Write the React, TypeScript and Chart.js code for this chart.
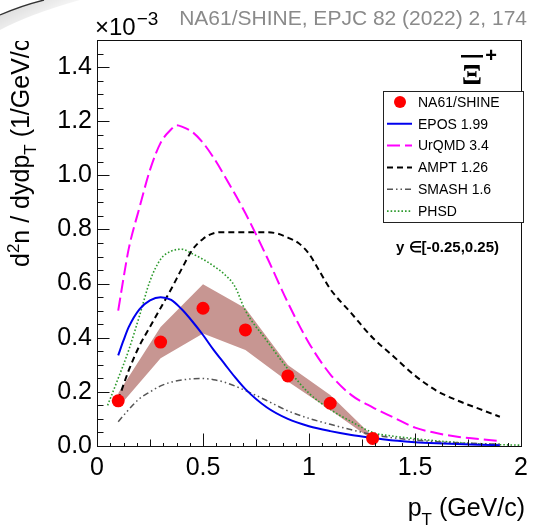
import React, { useEffect, useRef } from "react";
import { Chart, registerables } from "chart.js";
Chart.register(...registerables);

// ---- data (values in units of 1e-3) ----
const pT = [0.1, 0.3, 0.5, 0.7, 0.9, 1.1, 1.3];
const na61 = [0.167, 0.384, 0.509, 0.429, 0.259, 0.158, 0.028];
const bandUpper = [0.195, 0.44, 0.598, 0.509, 0.299, 0.188, 0.036];
const bandLower = [0.142, 0.324, 0.416, 0.355, 0.238, 0.133, 0.022];

const eposX = [0.1, 0.125, 0.15, 0.2, 0.25, 0.3, 0.35, 0.4, 0.45, 0.5, 0.55, 0.6, 0.65, 0.7, 0.8, 0.9, 1.0, 1.1, 1.2, 1.3, 1.4, 1.5, 1.6, 1.7, 1.8, 1.9];
const eposY = [0.335, 0.39, 0.44, 0.505, 0.538, 0.55, 0.54, 0.505, 0.46, 0.41, 0.355, 0.305, 0.255, 0.21, 0.143, 0.1, 0.073, 0.055, 0.041, 0.03, 0.02, 0.014, 0.01, 0.007, 0.005, 0.003];

const urqmdX = [0.1, 0.125, 0.15, 0.2, 0.25, 0.3, 0.35, 0.375, 0.4, 0.45, 0.5, 0.55, 0.6, 0.7, 0.8, 0.9, 1.0, 1.1, 1.2, 1.3, 1.4, 1.5, 1.6, 1.7, 1.8, 1.9];
const urqmdY = [0.5, 0.62, 0.73, 0.88, 1.02, 1.12, 1.17, 1.185, 1.18, 1.16, 1.12, 1.065, 1.0, 0.86, 0.7, 0.53, 0.38, 0.265, 0.188, 0.143, 0.105, 0.068, 0.048, 0.034, 0.026, 0.018];

const amptX = [0.1, 0.15, 0.2, 0.25, 0.3, 0.35, 0.4, 0.45, 0.5, 0.55, 0.6, 0.7, 0.8, 0.85, 0.9, 0.95, 1.0, 1.05, 1.1, 1.2, 1.3, 1.4, 1.5, 1.6, 1.7, 1.8, 1.9];
const amptY = [0.17, 0.28, 0.37, 0.44, 0.51, 0.58, 0.655, 0.725, 0.765, 0.786, 0.79, 0.79, 0.79, 0.785, 0.77, 0.75, 0.71, 0.645, 0.58, 0.49, 0.4, 0.33, 0.26, 0.205, 0.168, 0.138, 0.108];

const smashX = [0.1, 0.15, 0.2, 0.25, 0.3, 0.35, 0.4, 0.45, 0.5, 0.55, 0.6, 0.7, 0.8, 0.9, 1.0, 1.1, 1.2, 1.3, 1.4, 1.5, 1.6, 1.7, 1.8, 1.9];
const smashY = [0.09, 0.135, 0.175, 0.2, 0.222, 0.236, 0.244, 0.248, 0.249, 0.245, 0.236, 0.205, 0.168, 0.13, 0.102, 0.08, 0.06, 0.042, 0.03, 0.022, 0.016, 0.012, 0.009, 0.007];

const phsdX = [0.05, 0.1, 0.15, 0.2, 0.25, 0.3, 0.35, 0.4, 0.45, 0.5, 0.55, 0.6, 0.65, 0.7, 0.8, 0.9, 1.0, 1.1, 1.2, 1.3, 1.4, 1.5, 1.6, 1.7, 1.8, 1.9, 2.0];
const phsdY = [0.15, 0.25, 0.355, 0.48, 0.61, 0.69, 0.72, 0.727, 0.71, 0.69, 0.665, 0.635, 0.59, 0.5, 0.39, 0.285, 0.195, 0.135, 0.09, 0.05, 0.036, 0.027, 0.019, 0.013, 0.008, 0.005, 0.003];

const yTicks = [0, 0.2, 0.4, 0.6, 0.8, 1.0, 1.2, 1.4];
const xTicks = [0, 0.5, 1, 1.5, 2];

const legendLabels = ["NA61/SHINE", "EPOS 1.99", "UrQMD 3.4", "AMPT 1.26", "SMASH 1.6", "PHSD"];
const titleText = "NA61/SHINE, EPJC 82 (2022) 2, 174";
const rangeText = "y \u2208[-0.25,0.25)";

const SANS = '"Liberation Sans", Arial, Helvetica, sans-serif';

const xy = (xs: number[], ys: number[]) => xs.map((x, i) => ({ x, y: ys[i] }));

const styles = [
  { color: "#ff0000", dash: [] as number[], width: 0 },
  { color: "#0000ee", dash: [] as number[], width: 2 },
  { color: "#ff00ff", dash: [13, 5], width: 2 },
  { color: "#000000", dash: [6, 4], width: 2 },
  { color: "#555555", dash: [6, 3, 1.5, 3, 1.5, 3], width: 1.5 },
  { color: "#2e9a2e", dash: [1.6, 2], width: 1.6 },
];

const overlay = {
  id: "overlay",
  afterDraw(chart: any) {
    const { ctx, chartArea: a, scales } = chart;
    const xs = scales.x;
    const ys = scales.y;
    ctx.save();
    // frame
    ctx.strokeStyle = "#111";
    ctx.lineWidth = 1;
    ctx.setLineDash([]);
    const L = Math.round(a.left) + 0.5, T = Math.round(a.top) + 0.5;
    const R = Math.round(a.right) + 0.5, B = Math.round(a.bottom) + 0.5;
    ctx.strokeRect(L, T, R - L, B - T);
    // ticks
    ctx.beginPath();
    for (let i = 0; i <= 30; i++) {
      const py = Math.round(ys.getPixelForValue(i * 0.05)) + 0.5;
      const len = i % 4 === 0 ? 12 : 6;
      ctx.moveTo(L, py);
      ctx.lineTo(L + len, py);
    }
    for (let i = 0; i <= 32; i++) {
      const px = Math.round(xs.getPixelForValue(i * 0.0625)) + 0.5;
      const len = i % 8 === 0 ? 13 : i % 4 === 0 ? 7 : 3.5;
      ctx.moveTo(px, B);
      ctx.lineTo(px, B - len);
    }
    ctx.stroke();

    // title
    ctx.fillStyle = "#8a8a8a";
    ctx.font = `21px ${SANS}`;
    ctx.textAlign = "right";
    ctx.textBaseline = "alphabetic";
    ctx.fillText(titleText, 527, 25);

    // x10^-3
    ctx.fillStyle = "#000";
    ctx.textAlign = "left";
    ctx.font = `24px ${SANS}`;
    ctx.fillText("\u00d710", 95, 35);
    const w10 = ctx.measureText("\u00d710").width;
    ctx.font = `19px ${SANS}`;
    ctx.fillText("\u22123", 95 + w10 + 1, 25);

    // Xi-bar +
    ctx.font = `bold 30px "Liberation Serif", serif`;
    ctx.textAlign = "center";
    ctx.fillText("\u039e", 472, 84);
    ctx.fillRect(461, 55, 22, 2.5);
    ctx.font = `bold 20px ${SANS}`;
    ctx.textBaseline = "middle";
    ctx.fillText("+", 491, 56);

    // legend
    const lx0 = 383, ly0 = 91, lx1 = 523, ly1 = 222;
    ctx.fillStyle = "#fff";
    ctx.fillRect(lx0, ly0, lx1 - lx0, ly1 - ly0);
    ctx.strokeStyle = "#222";
    ctx.lineWidth = 1;
    ctx.strokeRect(lx0 + 0.5, ly0 + 0.5, lx1 - lx0, ly1 - ly0);
    const rowH = (ly1 - ly0) / legendLabels.length;
    legendLabels.forEach((lab, i) => {
      const cy = ly0 + rowH * (i + 0.5);
      const st = styles[i];
      if (i === 0) {
        ctx.fillStyle = st.color;
        ctx.beginPath();
        ctx.arc(400, cy, 6, 0, Math.PI * 2);
        ctx.fill();
      } else {
        ctx.strokeStyle = st.color;
        ctx.lineWidth = st.width;
        ctx.setLineDash(st.dash);
        ctx.beginPath();
        ctx.moveTo(387, cy);
        ctx.lineTo(412, cy);
        ctx.stroke();
        ctx.setLineDash([]);
      }
      ctx.fillStyle = "#000";
      ctx.font = `14px ${SANS}`;
      ctx.textAlign = "left";
      ctx.textBaseline = "middle";
      ctx.fillText(lab, 418, cy + 1);
    });

    // rapidity range
    ctx.font = `bold 15px ${SANS}`;
    ctx.textAlign = "left";
    ctx.textBaseline = "middle";
    ctx.fillText(rangeText, 396, 248);

    // x title
    ctx.textBaseline = "alphabetic";
    ctx.font = `25px ${SANS}`;
    const wA = ctx.measureText(" (GeV/c)").width;
    const wP = ctx.measureText("p").width;
    ctx.font = `17px ${SANS}`;
    const wT = ctx.measureText("T").width;
    let sx = 525 - wA - wT - wP;
    ctx.font = `25px ${SANS}`;
    ctx.fillText("p", sx, 516);
    sx += wP;
    ctx.font = `17px ${SANS}`;
    ctx.fillText("T", sx, 525);
    sx += wT;
    ctx.font = `25px ${SANS}`;
    ctx.fillText(" (GeV/c)", sx, 516);

    // y title (rotated), clipped at top like the reference
    ctx.save();
    ctx.beginPath();
    ctx.rect(0, 41, 80, 487);
    ctx.clip();
    ctx.translate(29, 267);
    ctx.rotate(-Math.PI / 2);
    let cx = 0;
    const seg = (t: string, size: number, dy: number) => {
      ctx.font = `${size}px ${SANS}`;
      ctx.fillText(t, cx, dy);
      cx += ctx.measureText(t).width;
    };
    seg("d", 25, 0);
    seg("2", 17, -10);
    seg("n / dydp", 25, 0);
    seg("T", 17, 7);
    seg(" (1/GeV/c)", 25, 0);
    ctx.restore();

    // page curl at top-left corner
    const g = ctx.createLinearGradient(0, 0, 20, 40);
    g.addColorStop(0, "rgba(0,0,0,0.18)");
    g.addColorStop(1, "rgba(0,0,0,0)");
    ctx.fillStyle = g;
    ctx.beginPath();
    ctx.moveTo(0, 15);
    ctx.quadraticCurveTo(20, 6, 44, 0);
    ctx.lineTo(80, 0);
    ctx.quadraticCurveTo(30, 14, 0, 30);
    ctx.closePath();
    ctx.fill();
    ctx.strokeStyle = "#333";
    ctx.lineWidth = 1.3;
    ctx.beginPath();
    ctx.moveTo(0, 15);
    ctx.quadraticCurveTo(20, 6, 44, 0);
    ctx.stroke();

    ctx.restore();
  },
};

export default function App() {
  const ref = useRef<HTMLCanvasElement | null>(null);
  useEffect(() => {
    if (!ref.current) return;
    const lineDs = (i: number, xs: number[], ys: number[]) => ({
      label: legendLabels[i],
      data: xy(xs, ys),
      borderColor: styles[i].color,
      borderWidth: styles[i].width,
      borderDash: styles[i].dash,
      pointRadius: 0,
      fill: false,
      cubicInterpolationMode: "monotone" as const,
      order: i,
    });
    const chart = new Chart(ref.current, {
      type: "line",
      data: {
        datasets: [
          {
            label: legendLabels[0],
            data: xy(pT, na61),
            showLine: false,
            pointRadius: 6.5,
            pointBackgroundColor: "#ff0000",
            pointBorderWidth: 0,
            borderColor: "#ff0000",
            order: 0,
          },
          lineDs(1, eposX, eposY),
          lineDs(2, urqmdX, urqmdY),
          lineDs(3, amptX, amptY),
          lineDs(4, smashX, smashY),
          lineDs(5, phsdX, phsdY),
          {
            label: "band lower",
            data: xy(pT, bandLower),
            borderWidth: 0,
            borderColor: "rgba(0,0,0,0)",
            pointRadius: 0,
            fill: false,
            tension: 0,
            order: 20,
          },
          {
            label: "band upper",
            data: xy(pT, bandUpper),
            borderWidth: 0,
            borderColor: "rgba(0,0,0,0)",
            backgroundColor: "#c79692",
            pointRadius: 0,
            fill: "-1",
            tension: 0,
            order: 19,
          },
        ],
      } as any,
      options: {
        responsive: false,
        animation: false,
        devicePixelRatio: 1,
        layout: { padding: { left: 0, right: 11, top: 40, bottom: 0 } },
        plugins: {
          legend: { display: false },
          tooltip: { enabled: false },
          title: { display: false },
        },
        scales: {
          x: {
            type: "linear",
            min: 0,
            max: 2,
            grid: { display: false, drawTicks: false },
            border: { display: false },
            afterBuildTicks: (s: any) => {
              s.ticks = xTicks.map((v) => ({ value: v }));
            },
            afterFit: (s: any) => {
              s.height = 82;
            },
            ticks: {
              color: "#000",
              padding: 7,
              maxRotation: 0,
              autoSkip: false,
              font: { family: SANS, size: 25 },
              callback: (v: any) => String(v),
            },
          },
          y: {
            type: "linear",
            min: 0,
            max: 1.5,
            grid: { display: false, drawTicks: false },
            border: { display: false },
            afterBuildTicks: (s: any) => {
              s.ticks = yTicks.map((v) => ({ value: v }));
            },
            afterFit: (s: any) => {
              s.width = 97;
            },
            ticks: {
              color: "#000",
              padding: 5,
              autoSkip: false,
              font: { family: SANS, size: 25 },
              callback: (v: any) => Number(v).toFixed(1),
            },
          },
        },
      } as any,
      plugins: [overlay],
    });
    return () => chart.destroy();
  }, []);
  return (
    <div style={{ position: "absolute", left: 0, top: 0, width: 535, height: 528, background: "#fff" }}>
      <canvas ref={ref} width={535} height={528} style={{ display: "block" }} />
    </div>
  );
}
